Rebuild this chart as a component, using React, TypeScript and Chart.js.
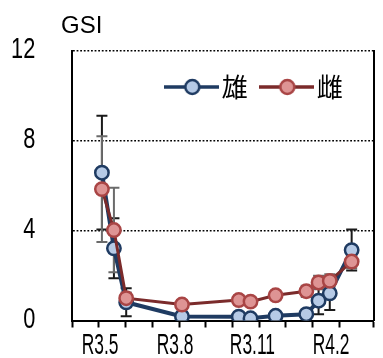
import React, { useEffect, useRef } from "react";
import { Chart, registerables } from "chart.js";

Chart.register(...registerables);

// ---- data (x = months elapsed since R3.4.1) ----
const sampleMonths = [1.11, 1.56, 2.02, 4.11, 6.24, 6.68, 7.62, 8.77, 9.23, 9.65, 10.47];
const maleGSI = [6.57, 3.21, 0.81, 0.18, 0.17, 0.1, 0.21, 0.28, 0.88, 1.21, 3.13];
const femaleGSI = [5.84, 4.02, 0.99, 0.71, 0.91, 0.84, 1.12, 1.3, 1.69, 1.76, 2.62];
const maleSD = [2.53, 1.33, 0.62, 0.05, 0.05, 0.05, 0.08, 0.1, 0.6, 0.74, 0.91];
const femaleSD = [2.35, 1.88, 0.25, 0.2, 0.2, 0.2, 0.2, 0.25, 0.3, 0.3, 0.3];
const seriesNames = ["雄", "雌"];
const xTickLabels = ["R3.5", "R3.8", "R3.11", "R4.2"];
const xTickLabelAt = [1.04, 3.85, 6.75, 9.7];
const yAxisTitle = "GSI";

const BLUE_LINE = "#1F3B62";
const BLUE_FILL = "#B6CAE6";
const RED_LINE = "#7B2B2B";
const RED_BORDER = "#A94545";
const RED_FILL = "#DE9494";
const TICK_FONT = '"Liberation Sans", Arial, sans-serif';

function makeSwatch(line: string, border: string, fill: string, lw: number) {
  const c = document.createElement("canvas");
  c.width = 55;
  c.height = 22;
  const g = c.getContext("2d")!;
  g.strokeStyle = line;
  g.lineWidth = lw;
  g.beginPath();
  g.moveTo(0, 11);
  g.lineTo(55, 11);
  g.stroke();
  g.beginPath();
  g.arc(28.5, 11, 7, 0, Math.PI * 2);
  g.fillStyle = fill;
  g.fill();
  g.lineWidth = 2.5;
  g.strokeStyle = border;
  g.stroke();
  return c;
}

const errorBarPlugin = {
  id: "errorBars",
  beforeDatasetsDraw(chart: any) {
    const ctx = chart.ctx;
    const ys = chart.scales.y;
    chart.data.datasets.forEach((ds: any, i: number) => {
      const meta = chart.getDatasetMeta(i);
      const errs: number[] = ds.errors;
      if (!errs) return;
      ctx.save();
      ctx.strokeStyle = ds.errorColor;
      ctx.lineWidth = 2;
      meta.data.forEach((pt: any, j: number) => {
        const v = ds.data[j].y;
        const top = ys.getPixelForValue(v + errs[j]);
        const bot = ys.getPixelForValue(v - errs[j]);
        const x = pt.x;
        ctx.beginPath();
        ctx.moveTo(x, top);
        ctx.lineTo(x, bot);
        ctx.moveTo(x - 5.5, top);
        ctx.lineTo(x + 5.5, top);
        ctx.moveTo(x - 5.5, bot);
        ctx.lineTo(x + 5.5, bot);
        ctx.stroke();
      });
      ctx.restore();
    });
  },
};

const condensedTicks = {
  id: "condensedTicks",
  afterDraw(chart: any) {
    const ctx = chart.ctx;
    const xs = chart.scales.x;
    const ys = chart.scales.y;
    ctx.save();
    ctx.fillStyle = "#000";
    ctx.font = `29px ${TICK_FONT}`;
    ctx.textBaseline = "middle";
    ys.ticks.forEach((t: any) => {
      const py = ys.getPixelForValue(t.value);
      ctx.save();
      ctx.translate(ys.right - 37, py - 1);
      ctx.scale(0.75, 1);
      ctx.textAlign = "right";
      ctx.fillText(String(t.value), 0, 0);
      ctx.restore();
    });
    xTickLabels.forEach((lab, i) => {
      const px = xs.getPixelForValue(xTickLabelAt[i]);
      ctx.save();
      ctx.translate(px, xs.top + 25);
      ctx.scale(0.6, 1);
      ctx.textAlign = "center";
      ctx.fillText(lab, 0, 0);
      ctx.restore();
    });
    ctx.restore();
  },
};

const legendInside = {
  id: "legendInside",
  beforeLayout(chart: any) {
    const lg = chart.legend;
    if (lg && !lg.__patched) {
      const orig = lg.fit;
      lg.fit = function () {
        orig.call(this);
        this.__h = this.height;
        this.height = 0;
      };
      lg.__patched = true;
    }
  },
  afterLayout(chart: any) {
    const lg = chart.legend;
    const ca = chart.chartArea;
    if (!lg) return;
    lg.left = ca.left;
    lg.right = ca.right - 10;
    lg.width = lg.right - lg.left;
    lg.top = ca.top + 2.5;
    lg.height = lg.__h || 60;
    lg.bottom = lg.top + lg.height;
  },
};

export default function App() {
  const ref = useRef<HTMLCanvasElement>(null);
  useEffect(() => {
    document.body.style.margin = "0";
    const swatches = [
      makeSwatch(BLUE_LINE, BLUE_LINE, BLUE_FILL, 3.5),
      makeSwatch(RED_LINE, RED_BORDER, RED_FILL, 3.5),
    ];
    const chart = new Chart(ref.current!, {
      type: "line",
      data: {
        datasets: [
          {
            label: seriesNames[0],
            data: sampleMonths.map((m, i) => ({ x: m, y: maleGSI[i] })),
            borderColor: BLUE_LINE,
            borderWidth: 4,
            pointRadius: 6.7,
            pointBorderWidth: 2.5,
            pointBackgroundColor: BLUE_FILL,
            pointBorderColor: BLUE_LINE,
            tension: 0,
            order: 1,
            errors: maleSD,
            errorColor: "#1a1a1a",
          } as any,
          {
            label: seriesNames[1],
            data: sampleMonths.map((m, i) => ({ x: m, y: femaleGSI[i] })),
            borderColor: RED_LINE,
            borderWidth: 3,
            pointRadius: 6.7,
            pointBorderWidth: 2.5,
            pointBackgroundColor: RED_FILL,
            pointBorderColor: RED_BORDER,
            tension: 0,
            order: 0,
            errors: femaleSD,
            errorColor: "#6b6b6b",
          } as any,
        ],
      },
      options: {
        animation: false,
        responsive: true,
        maintainAspectRatio: false,
        layout: { padding: { left: 61, right: 1.3, top: 12.1, bottom: 0 } },
        scales: {
          x: {
            type: "linear",
            min: 0,
            max: 11.3,
            ticks: { display: false, stepSize: 1 },
            grid: {
              drawOnChartArea: false,
              drawTicks: true,
              tickLength: 7,
              tickWidth: 2,
              tickColor: "#000",
              color: "#000",
            },
            border: { display: true, color: "#000", width: 2 },
            afterFit: (s: any) => {
              s.height = 37.5;
            },
          },
          y: {
            min: 0,
            max: 12,
            ticks: { display: false, stepSize: 4 },
            grid: { drawTicks: false, color: "#000", lineWidth: 1.5 },
            border: { display: true, color: "#000", width: 2, dash: [1.8, 1.8] },
            afterFit: (s: any) => {
              s.width = 11.3;
            },
          },
          y2: {
            position: "right",
            ticks: { display: false },
            grid: { display: false, drawTicks: false },
            border: { display: true, color: "#000", width: 2 },
            afterFit: (s: any) => {
              s.width = 0;
            },
          },
        },
        plugins: {
          tooltip: { enabled: false },
          title: {
            display: true,
            text: yAxisTitle,
            align: "start",
            color: "#000",
            font: { family: TICK_FONT, size: 24, weight: "normal" },
            padding: { top: 0, bottom: 9.6 },
          },
          legend: {
            display: true,
            position: "top",
            align: "end",
            labels: {
              usePointStyle: true,
              pointStyleWidth: 35,
              padding: 21,
              color: "#000",
              font: { family: '"Noto Sans CJK JP", sans-serif', size: 26 },
              sort: (a: any, b: any) => a.datasetIndex - b.datasetIndex,
              generateLabels: (c: any) => {
                const items = (Chart.defaults.plugins.legend.labels as any).generateLabels(c);
                return items.map((it: any) => ({ ...it, pointStyle: swatches[it.datasetIndex] }));
              },
            },
          },
        },
      } as any,
      plugins: [errorBarPlugin, condensedTicks, legendInside],
    });
    return () => chart.destroy();
  }, []);
  return (
    <div style={{ width: 383, height: 358, position: "relative", background: "#fff" }}>
      <canvas ref={ref} />
    </div>
  );
}
